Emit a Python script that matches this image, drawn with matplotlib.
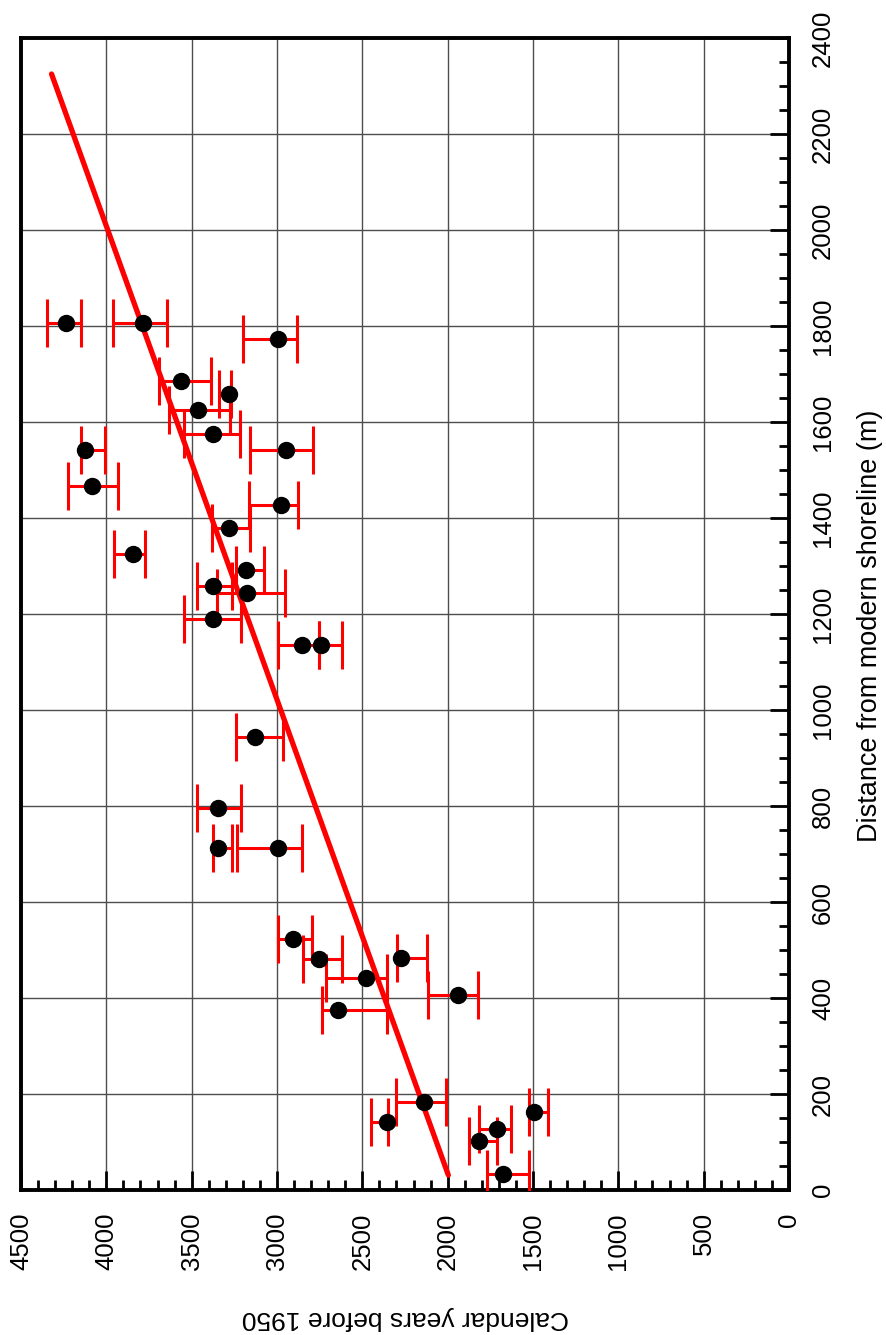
import numpy as np
import matplotlib
matplotlib.use("Agg")
import matplotlib.pyplot as plt
from matplotlib.ticker import MultipleLocator

plt.rcParams['font.family'] = ['Liberation Sans', 'DejaVu Sans']

# distance from shoreline (m), calibrated age (years BP) and its range
distance = [1807, 1807, 1773, 1686, 1658, 1625, 1576, 1541, 1541, 1467,
            1427, 1380, 1325, 1292, 1258, 1243, 1189, 1135, 1135, 944,
            795, 713, 713, 523, 482, 483, 441, 406, 374, 184,
            142, 162, 128, 103, 33]
years = [4238, 3784, 2993, 3563, 3280, 3465, 3377, 4125, 2949, 4086,
         2977, 3280, 3842, 3184, 3377, 3178, 3377, 2852, 2742, 3127,
         3348, 3348, 2996, 2908, 2752, 2274, 2479, 1938, 2645, 2139,
         2354, 1494, 1713, 1817, 1674]
years_young = [4151, 3647, 2885, 3389, 3271, 3276, 3217, 4008, 2791, 3930,
               2875, 3158, 3774, 3074, 3266, 2954, 3213, 2755, 2621, 2963,
               3213, 3266, 2852, 2797, 2621, 2123, 2354, 1821, 2354, 2010,
               2348, 1410, 1629, 1713, 1522]
years_old = [4346, 3963, 3201, 3692, 3338, 3633, 3545, 4149, 3158, 4223,
             3162, 3379, 3954, 3242, 3471, 3354, 3545, 2997, 2752, 3242,
             3471, 3373, 3233, 2993, 2850, 2299, 2713, 2117, 2735, 2305,
             2451, 1522, 1817, 1875, 1768]

# regression line end points
fit_dist = [31, 2325]
fit_years = [1996, 4321]

years = np.array(years)
xerr = np.array([years - np.array(years_young), np.array(years_old) - years])

fig = plt.figure(figsize=(8.87, 13.35), dpi=100)
ax = fig.add_axes([21 / 887, 1 - 1190 / 1335, 768 / 887, 1152 / 1335])

ax.errorbar(years, distance, xerr=xerr, fmt='none', ecolor='red',
            elinewidth=2.2, capsize=17, capthick=2.2, zorder=3)
ax.plot(fit_years, fit_dist, color='red', lw=3.8, solid_capstyle='round', zorder=4)
ax.plot(years, distance, 'o', color='black', ms=11.5, zorder=5)

ax.set_xlim(4500, 0)
ax.set_ylim(0, 2400)

ax.xaxis.set_major_locator(MultipleLocator(500))
ax.xaxis.set_minor_locator(MultipleLocator(100))
ax.yaxis.set_major_locator(MultipleLocator(200))
ax.yaxis.set_minor_locator(MultipleLocator(50))

ax.yaxis.tick_right()
ax.yaxis.set_label_position('right')
ax.tick_params(axis='both', which='major', direction='in', length=14, width=2,
               labelsize=18.5, pad=16)
ax.tick_params(axis='both', which='minor', direction='in', length=7, width=2)
ax.tick_params(axis='x', which='both', top=False)
ax.tick_params(axis='y', which='both', left=False)

for lab in ax.get_xticklabels():
    lab.set_rotation(90)
for lab in ax.get_yticklabels():
    lab.set_rotation(90)
    lab.set_verticalalignment('center')

for s in ax.spines.values():
    s.set_linewidth(2.8)

ax.grid(True, which='major', color='0.3', lw=1)
ax.set_axisbelow(True)

ax.set_xlabel('Calendar years before 1950', fontsize=19, rotation=180,
              va='center', ha='center')
ax.xaxis.set_label_coords(0.5, -0.111)
ax.set_ylabel('Distance from modern shoreline (m)', fontsize=19.5, rotation=90,
              va='center', ha='center')
ax.yaxis.set_label_coords(1.105, 0.49)

fig.savefig('out.png', dpi=100)
